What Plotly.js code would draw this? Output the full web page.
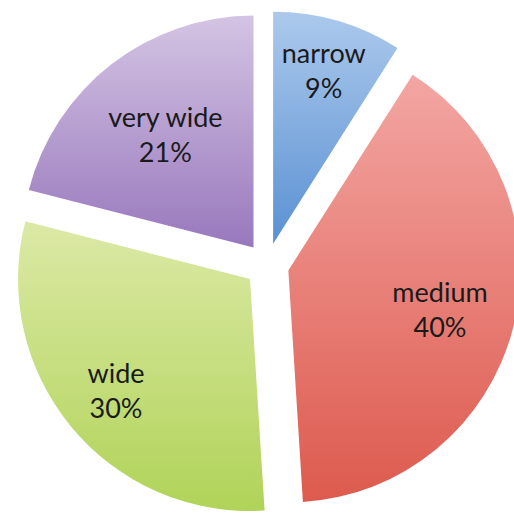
<!DOCTYPE html>
<html>
<head>
<meta charset="utf-8">
<script src="https://cdn.plot.ly/plotly-3.0.1.min.js"></script>
<style>
html, body { margin: 0; padding: 0; overflow: hidden; background: #ffffff; }
#chart { width: 521px; height: 519px; }
</style>
</head>
<body>
<div id="chart"></div>
<script>
const categories = ["narrow", "medium", "wide", "very wide"];
const shares = [9, 40, 30, 21];
const sliceColors = ["#86ade0", "#ea807a", "#c8de80", "#b79fd1"];
const gradientTop = ["#acc9ec", "#f3a6a3", "#dce9a6", "#d4c4e3"];
const gradientBottom = ["#5a91d3", "#dd5a4e", "#b0d358", "#9878bd"];
const clear = ["rgba(0,0,0,0)", "rgba(0,0,0,0)", "rgba(0,0,0,0)", "rgba(0,0,0,0)"];

const labelFont = { family: "Lato, 'Open Sans', sans-serif", size: 27, color: "#1a1a1a" };

function pieTrace(colors, hole, positions) {
  return {
    type: "pie",
    labels: categories,
    values: shares,
    sort: false,
    direction: "clockwise",
    rotation: 0,
    pull: 0.095,
    hole: hole,
    marker: { colors: colors, line: { width: 0 } },
    texttemplate: "%{label}<br>%{percent}",
    textposition: positions,
    insidetextorientation: "horizontal",
    insidetextfont: labelFont,
    hoverinfo: "none",
    showlegend: false
  };
}

// solid slices with the narrow and very wide labels
const slices = pieTrace(sliceColors, 0, ["inside", "none", "none", "inside"]);
// transparent label layers that move the medium and wide labels outward
const mediumLabels = pieTrace(clear, 0.35, ["none", "inside", "none", "none"]);
const wideLabels = pieTrace(clear, 0.5, ["none", "none", "inside", "none"]);

const layout = {
  width: 521,
  height: 519,
  margin: { l: 13, r: 0, t: 11, b: 0 },
  paper_bgcolor: "#ffffff",
  plot_bgcolor: "#ffffff",
  uniformtext: { minsize: 27, mode: "show" },
  showlegend: false
};

Plotly.newPlot("chart", [slices, mediumLabels, wideLabels], layout, { displayModeBar: false, staticPlot: true }).then(function (gd) {
  const svg = gd.querySelector("svg.main-svg");
  const ns = "http://www.w3.org/2000/svg";
  let defs = svg.querySelector("defs");
  if (!defs) { defs = document.createElementNS(ns, "defs"); svg.insertBefore(defs, svg.firstChild); }
  categories.forEach(function (c, i) {
    const g = document.createElementNS(ns, "linearGradient");
    g.setAttribute("id", "sliceGrad" + i);
    g.setAttribute("x1", "0"); g.setAttribute("y1", "0");
    g.setAttribute("x2", "0"); g.setAttribute("y2", "1");
    const s1 = document.createElementNS(ns, "stop");
    s1.setAttribute("offset", "0"); s1.setAttribute("stop-color", gradientTop[i]);
    const s2 = document.createElementNS(ns, "stop");
    s2.setAttribute("offset", "1"); s2.setAttribute("stop-color", gradientBottom[i]);
    g.appendChild(s1); g.appendChild(s2);
    defs.appendChild(g);
  });
  const firstTrace = gd.querySelectorAll(".pielayer .trace")[0];
  firstTrace.querySelectorAll("path.surface").forEach(function (p, i) {
    p.style.fill = "url(#sliceGrad" + i + ")";
  });
});
</script>
</body>
</html>
